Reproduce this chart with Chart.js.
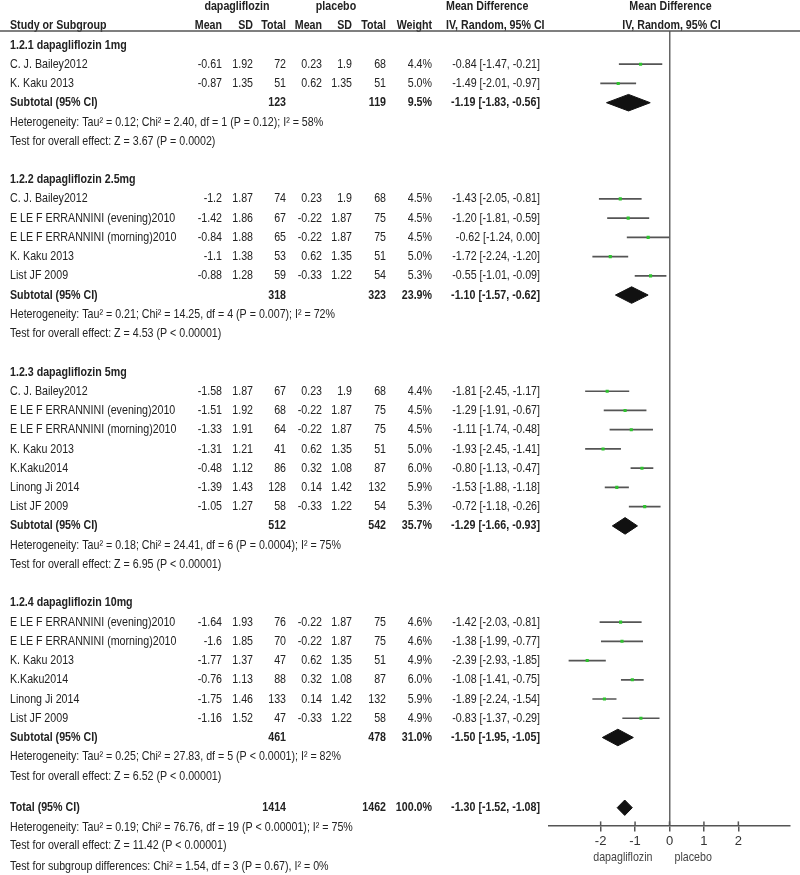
<!DOCTYPE html>
<html>
<head>
<meta charset="utf-8">
<script src="https://cdn.jsdelivr.net/npm/chart.js@4.4.0/dist/chart.umd.min.js"></script>
<style>
html,body{margin:0;padding:0;background:#fff;}
canvas{display:block;}
</style>
</head>
<body>
<canvas id="c" width="800" height="875"></canvas>
<script>
// ---------- DATA ----------
const groupTitles = ["1.2.1 dapagliflozin 1mg", "1.2.2 dapagliflozin 2.5mg", "1.2.3 dapagliflozin 5mg", "1.2.4 dapagliflozin 10mg"];
const studyGroup = [0,0, 1,1,1,1,1, 2,2,2,2,2,2,2, 3,3,3,3,3,3];
const studyNames = [
  "C. J. Bailey2012","K. Kaku 2013",
  "C. J. Bailey2012","E LE F ERRANNINI (evening)2010","E LE F ERRANNINI (morning)2010","K. Kaku 2013","List JF 2009",
  "C. J. Bailey2012","E LE F ERRANNINI (evening)2010","E LE F ERRANNINI (morning)2010","K. Kaku 2013","K.Kaku2014","Linong Ji 2014","List JF 2009",
  "E LE F ERRANNINI (evening)2010","E LE F ERRANNINI (morning)2010","K. Kaku 2013","K.Kaku2014","Linong Ji 2014","List JF 2009"
];
const dapaMean = [-0.61,-0.87, -1.2,-1.42,-0.84,-1.1,-0.88, -1.58,-1.51,-1.33,-1.31,-0.48,-1.39,-1.05, -1.64,-1.6,-1.77,-0.76,-1.75,-1.16];
const dapaSD = [1.92,1.35, 1.87,1.86,1.88,1.38,1.28, 1.87,1.92,1.91,1.21,1.12,1.43,1.27, 1.93,1.85,1.37,1.13,1.46,1.52];
const dapaN = [72,51, 74,67,65,53,59, 67,68,64,41,86,128,58, 76,70,47,88,133,47];
const placeboMean = [0.23,0.62, 0.23,-0.22,-0.22,0.62,-0.33, 0.23,-0.22,-0.22,0.62,0.32,0.14,-0.33, -0.22,-0.22,0.62,0.32,0.14,-0.33];
const placeboSD = [1.9,1.35, 1.9,1.87,1.87,1.35,1.22, 1.9,1.87,1.87,1.35,1.08,1.42,1.22, 1.87,1.87,1.35,1.08,1.42,1.22];
const placeboN = [68,51, 68,75,75,51,54, 68,75,75,51,87,132,54, 75,75,51,87,132,58];
const studyWeight = [4.4,5.0, 4.5,4.5,4.5,5.0,5.3, 4.4,4.5,4.5,5.0,6.0,5.9,5.3, 4.6,4.6,4.9,6.0,5.9,4.9];
const mdValue = [-0.84,-1.49, -1.43,-1.20,-0.62,-1.72,-0.55, -1.81,-1.29,-1.11,-1.93,-0.80,-1.53,-0.72, -1.42,-1.38,-2.39,-1.08,-1.89,-0.83];
const mdLow = [-1.47,-2.01, -2.05,-1.81,-1.24,-2.24,-1.01, -2.45,-1.91,-1.74,-2.45,-1.13,-1.88,-1.18, -2.03,-1.99,-2.93,-1.41,-2.24,-1.37];
const mdHigh = [-0.21,-0.97, -0.81,-0.59,0.00,-1.20,-0.09, -1.17,-0.67,-0.48,-1.41,-0.47,-1.18,-0.26, -0.81,-0.77,-1.85,-0.75,-1.54,-0.29];

const subDapaN = [123,318,512,461];
const subPlaceboN = [119,323,542,478];
const subWeight = [9.5,23.9,35.7,31.0];
const subMD = [-1.19,-1.10,-1.29,-1.50];
const subLow = [-1.83,-1.57,-1.66,-1.95];
const subHigh = [-0.56,-0.62,-0.93,-1.05];
const subHeterogeneity = [
  "Heterogeneity: Tau² = 0.12; Chi² = 2.40, df = 1 (P = 0.12); I² = 58%",
  "Heterogeneity: Tau² = 0.21; Chi² = 14.25, df = 4 (P = 0.007); I² = 72%",
  "Heterogeneity: Tau² = 0.18; Chi² = 24.41, df = 6 (P = 0.0004); I² = 75%",
  "Heterogeneity: Tau² = 0.25; Chi² = 27.83, df = 5 (P < 0.0001); I² = 82%"
];
const subOverall = [
  "Test for overall effect: Z = 3.67 (P = 0.0002)",
  "Test for overall effect: Z = 4.53 (P < 0.00001)",
  "Test for overall effect: Z = 6.95 (P < 0.00001)",
  "Test for overall effect: Z = 6.52 (P < 0.00001)"
];
const totalDapaN = 1414;
const totalPlaceboN = 1462;
const totalWeight = 100.0;
const totalMD = -1.30;
const totalLow = -1.52;
const totalHigh = -1.08;
const totalNotes = [
  "Heterogeneity: Tau² = 0.19; Chi² = 76.76, df = 19 (P < 0.00001); I² = 75%",
  "Test for overall effect: Z = 11.42 (P < 0.00001)",
  "Test for subgroup differences: Chi² = 1.54, df = 3 (P = 0.67), I² = 0%"
];
const xTicks = [-2,-1,0,1,2];
const favourLabels = ["dapagliflozin", "placebo"];

// ---------- FONT ----------
let FAMILY = "'Liberation Sans Narrow', 'Arial Narrow', sans-serif";
let SQUEEZE = 1;
(function(){
  const c = document.createElement('canvas').getContext('2d');
  c.font = "13px monospace";
  const w0 = c.measureText("ERRANNINI evening 2010").width;
  c.font = "13px 'Liberation Sans Narrow', monospace";
  const w1 = c.measureText("ERRANNINI evening 2010").width;
  if (Math.abs(w1 - w0) < 0.01) { FAMILY = "'Liberation Sans', Arial, sans-serif"; SQUEEZE = 0.82; }
})();
const FSIZE = 13;
const TEXT = '#222';
Chart.defaults.font.family = FAMILY;
Chart.defaults.font.size = FSIZE;
Chart.defaults.color = TEXT;

// ---------- ROW LAYOUT ----------
const titleRow = [], studyRow = [], subtotalRow = [], hetRow = [], overallRow = [];
let r = 0;
groupTitles.forEach((t, g) => {
  titleRow[g] = r; r += 1;
  studyGroup.forEach((sg, i) => { if (sg === g) { studyRow[i] = r; r += 1; } });
  subtotalRow[g] = r; r += 1;
  hetRow[g] = r; r += 1;
  overallRow[g] = r;
  r += (g < groupTitles.length - 1) ? 2 : 1.65;
});
const totalRow = r;
const totalNoteRows = [r + 1.0, r + 1.95, r + 3.05];
const Y_MIN = -0.727, Y_MAX = 40.57;

// ---------- DATASETS ----------
const datasets = [];
studyNames.forEach((n, i) => {
  datasets.push({
    type: 'line', order: 2,
    data: [{x: mdLow[i], y: studyRow[i]}, {x: mdHigh[i], y: studyRow[i]}],
    borderColor: '#555', borderWidth: 1.7, pointRadius: 0, fill: false, tension: 0
  });
});
datasets.push({
  type: 'scatter', order: 0,
  data: studyNames.map((n, i) => ({x: mdValue[i], y: studyRow[i]})),
  pointStyle: 'rect', pointRadius: 2.2, backgroundColor: '#2ec42e', borderWidth: 0
});
function diamond(lo, md, hi, row, h) {
  return {
    type: 'line', order: 1,
    data: [{x: lo, y: row}, {x: md, y: row - h}, {x: hi, y: row}, {x: md, y: row + h}, {x: lo, y: row}],
    borderColor: '#111', backgroundColor: '#111', borderWidth: 1, pointRadius: 0, tension: 0, fill: 'shape'
  };
}
groupTitles.forEach((t, g) => datasets.push(diamond(subLow[g], subMD[g], subHigh[g], subtotalRow[g], 0.43)));
datasets.push(diamond(totalLow, totalMD, totalHigh, totalRow, 0.4));

// ---------- TEXT PLUGIN ----------
const COL = {name: 10, dMean: 222, dSD: 253, dN: 286, pMean: 322, pSD: 352, pN: 386, weight: 432, ci: 540, mdHead: 446};
const textPlugin = {
  id: 'forestText',
  afterDraw(chart) {
    const ctx = chart.ctx, yS = chart.scales.y, xS = chart.scales.x, ca = chart.chartArea;
    function txtPx(s, x, y, align, bold, color) {
      ctx.save();
      ctx.font = (bold ? 'bold ' : '') + FSIZE + 'px ' + FAMILY;
      ctx.textAlign = align; ctx.textBaseline = 'middle'; ctx.fillStyle = color || TEXT;
      ctx.translate(x, y); ctx.scale(SQUEEZE, 1);
      ctx.fillText(s, 0, 0);
      ctx.restore();
    }
    const txt = (s, x, row, align, bold) => txtPx(s, x, yS.getPixelForValue(row), align, bold);
    const fmtCI = (m, l, h) => m.toFixed(2) + ' [' + l.toFixed(2) + ', ' + h.toFixed(2) + ']';
    const x0 = xS.getPixelForValue(0);

    // headers
    txt("dapagliflozin", 237, -2, 'center', true);
    txt("placebo", 336, -2, 'center', true);
    txt("Mean Difference", COL.mdHead, -2, 'left', true);
    txt("Mean Difference", x0 + 1, -2, 'center', true);
    txt("Study or Subgroup", COL.name, -1, 'left', true);
    txt("Mean", COL.dMean, -1, 'right', true);
    txt("SD", COL.dSD, -1, 'right', true);
    txt("Total", COL.dN, -1, 'right', true);
    txt("Mean", COL.pMean, -1, 'right', true);
    txt("SD", COL.pSD, -1, 'right', true);
    txt("Total", COL.pN, -1, 'right', true);
    txt("Weight", COL.weight, -1, 'right', true);
    txt("IV, Random, 95% CI", COL.mdHead, -1, 'left', true);
    txt("IV, Random, 95% CI", x0 + 2, -1, 'center', true);

    ctx.save();
    ctx.strokeStyle = '#555'; ctx.lineWidth = 1.5;
    ctx.beginPath(); ctx.moveTo(0, ca.top); ctx.lineTo(800, ca.top); ctx.stroke();
    ctx.restore();

    groupTitles.forEach((t, g) => {
      txt(t, COL.name, titleRow[g], 'left', true);
      studyGroup.forEach((sg, i) => {
        if (sg !== g) return;
        const rr = studyRow[i];
        txt(studyNames[i], COL.name, rr, 'left', false);
        txt(String(dapaMean[i]), COL.dMean, rr, 'right', false);
        txt(String(dapaSD[i]), COL.dSD, rr, 'right', false);
        txt(String(dapaN[i]), COL.dN, rr, 'right', false);
        txt(String(placeboMean[i]), COL.pMean, rr, 'right', false);
        txt(String(placeboSD[i]), COL.pSD, rr, 'right', false);
        txt(String(placeboN[i]), COL.pN, rr, 'right', false);
        txt(studyWeight[i].toFixed(1) + '%', COL.weight, rr, 'right', false);
        txt(fmtCI(mdValue[i], mdLow[i], mdHigh[i]), COL.ci, rr, 'right', false);
      });
      const sr = subtotalRow[g];
      txt("Subtotal (95% CI)", COL.name, sr, 'left', true);
      txt(String(subDapaN[g]), COL.dN, sr, 'right', true);
      txt(String(subPlaceboN[g]), COL.pN, sr, 'right', true);
      txt(subWeight[g].toFixed(1) + '%', COL.weight, sr, 'right', true);
      txt(fmtCI(subMD[g], subLow[g], subHigh[g]), COL.ci, sr, 'right', true);
      txt(subHeterogeneity[g], COL.name, hetRow[g], 'left', false);
      txt(subOverall[g], COL.name, overallRow[g], 'left', false);
    });

    txt("Total (95% CI)", COL.name, totalRow, 'left', true);
    txt(String(totalDapaN), COL.dN, totalRow, 'right', true);
    txt(String(totalPlaceboN), COL.pN, totalRow, 'right', true);
    txt(totalWeight.toFixed(1) + '%', COL.weight, totalRow, 'right', true);
    txt(fmtCI(totalMD, totalLow, totalHigh), COL.ci, totalRow, 'right', true);
    totalNotes.forEach((s, k) => txt(s, COL.name, totalNoteRows[k], 'left', false));

    // upper half of the axis ticks
    ctx.save();
    ctx.strokeStyle = '#555'; ctx.lineWidth = 1.5;
    xTicks.forEach(v => {
      const px = xS.getPixelForValue(v);
      ctx.beginPath(); ctx.moveTo(px, ca.bottom - 4); ctx.lineTo(px, ca.bottom); ctx.stroke();
    });
    ctx.restore();

    // favour labels
    const fy = ca.bottom + 32;
    txtPx(favourLabels[0], x0 - 17, fy, 'right', false, '#444');
    txtPx(favourLabels[1], x0 + 5, fy, 'left', false, '#444');
  }
};

// ---------- CHART ----------
new Chart(document.getElementById('c'), {
  type: 'scatter',
  data: { datasets },
  options: {
    responsive: false,
    animation: false,
    events: [],
    layout: { padding: { left: 549, right: 10, top: 31, bottom: 24 } },
    plugins: { legend: { display: false }, tooltip: { enabled: false } },
    scales: {
      x: {
        type: 'linear', min: -3.5, max: 3.5, position: 'bottom',
        afterBuildTicks: (s) => { s.ticks = xTicks.map(v => ({value: v})); },
        grid: {
          color: (c) => (c.tick && c.tick.value === 0) ? '#666' : 'rgba(0,0,0,0)',
          lineWidth: 1.5, drawOnChartArea: true, tickLength: 6, tickColor: '#555', tickWidth: 1.5
        },
        border: { display: true, color: '#555', width: 1.5 },
        ticks: { color: '#333', padding: 2, font: { size: FSIZE } }
      },
      y: { type: 'linear', reverse: true, min: Y_MIN, max: Y_MAX, display: false }
    }
  },
  plugins: [textPlugin]
});
</script>
</body>
</html>
